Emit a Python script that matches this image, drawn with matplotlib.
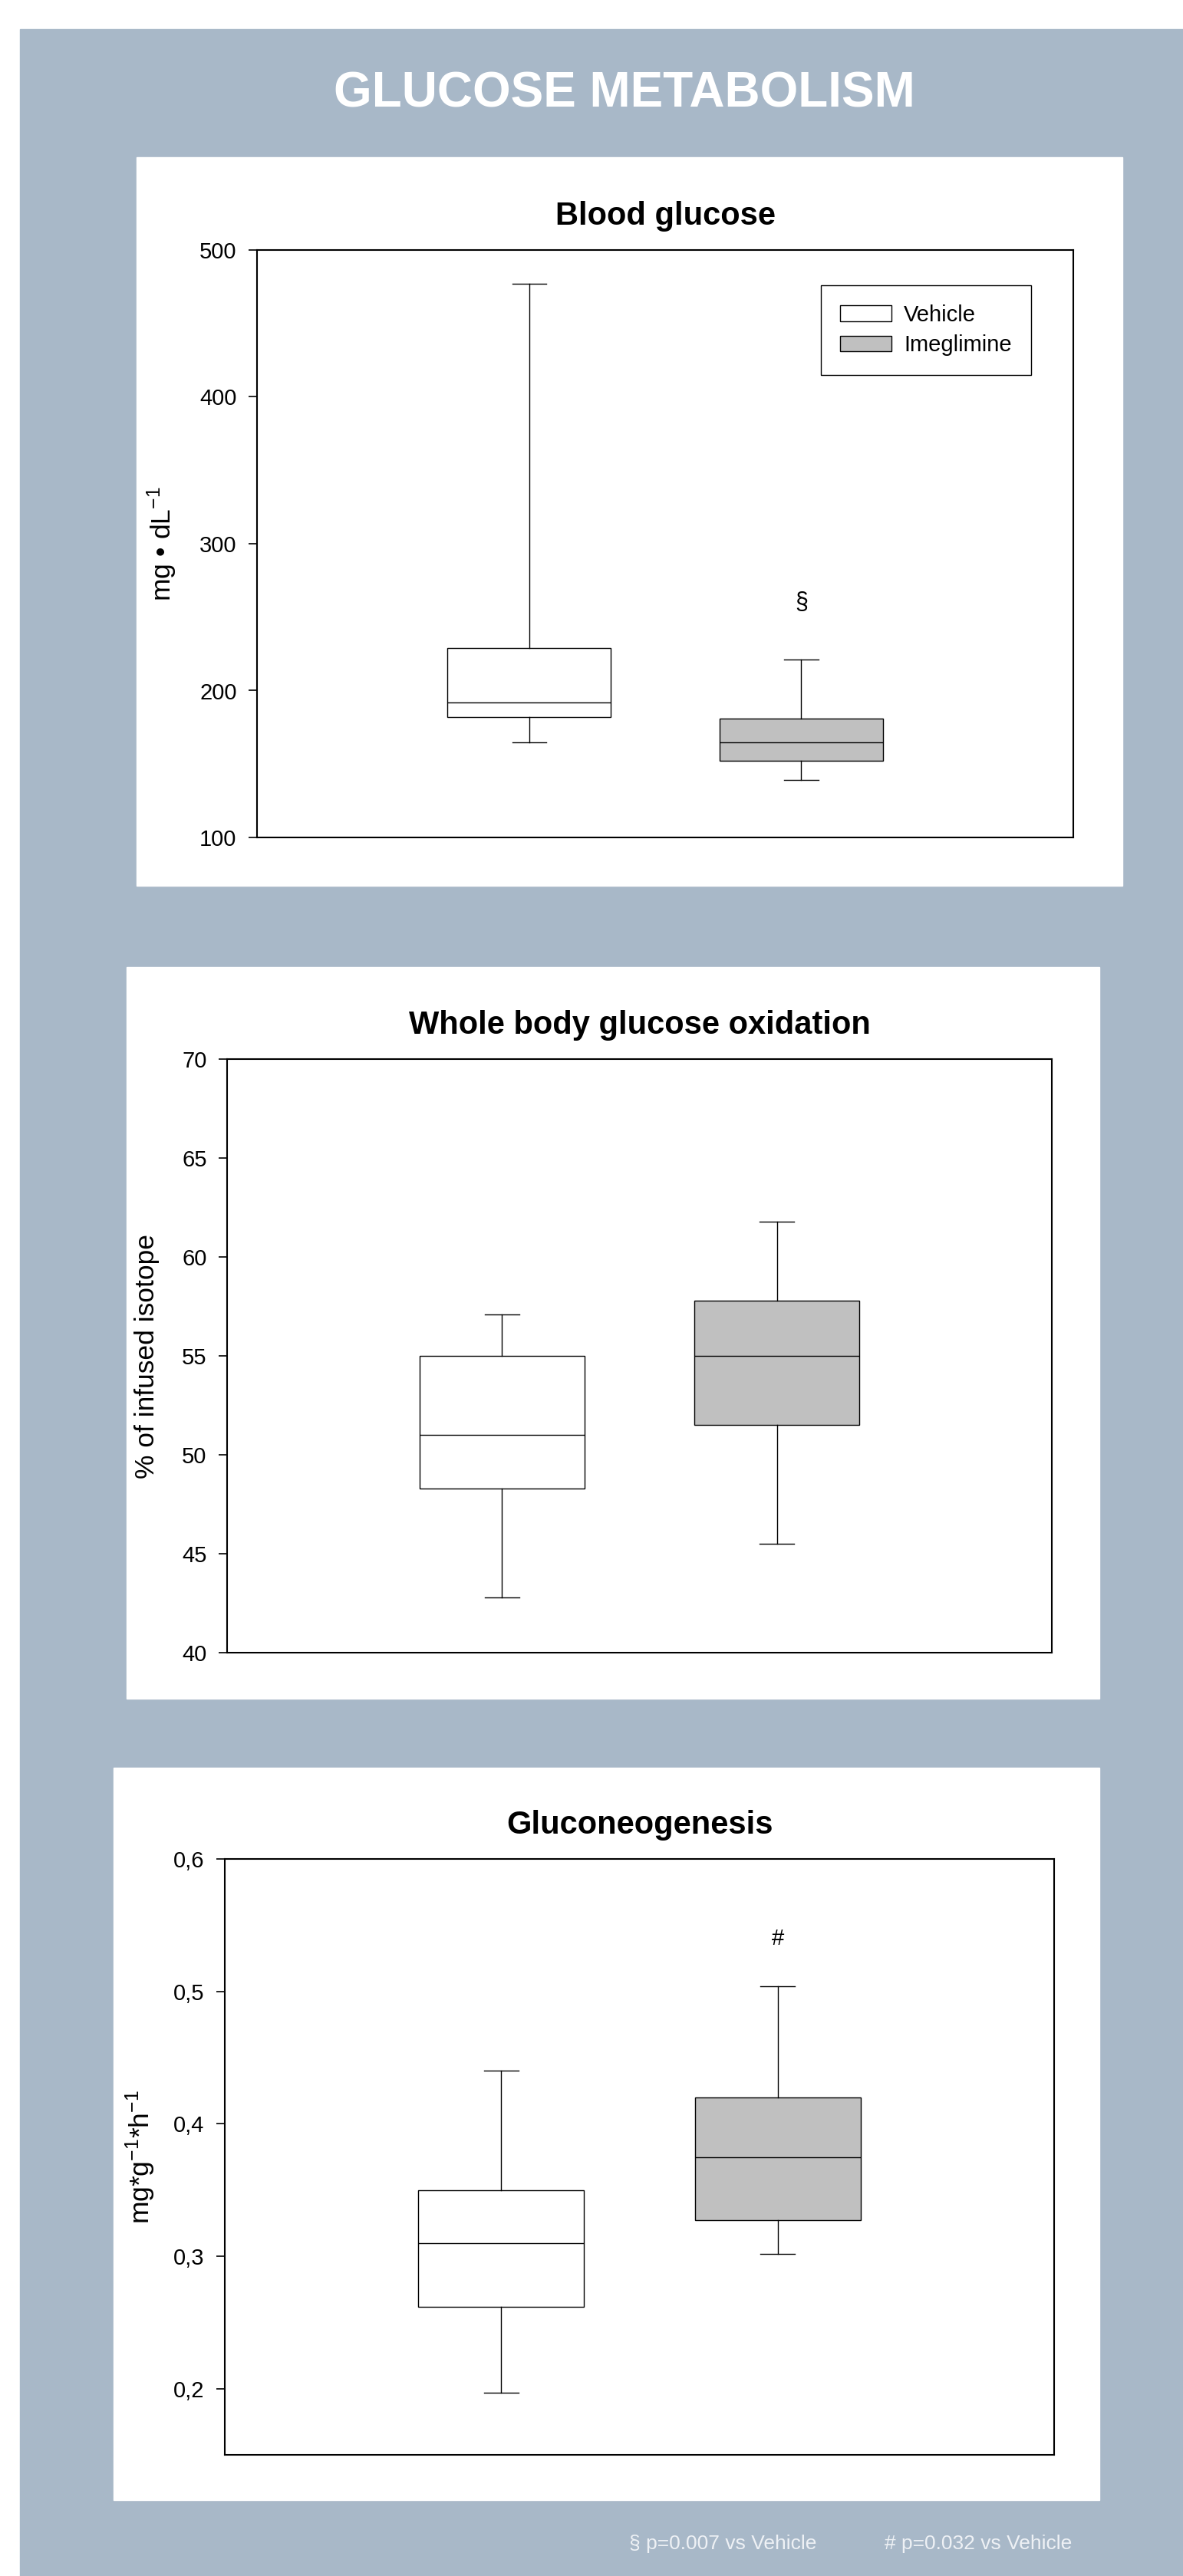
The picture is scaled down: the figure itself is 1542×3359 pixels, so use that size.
import matplotlib

matplotlib.use("Agg")
import matplotlib.pyplot as plt
from matplotlib.patches import Rectangle
from matplotlib.ticker import FuncFormatter

plt.rcParams["font.family"] = ["Liberation Sans", "DejaVu Sans"]
plt.rcParams["mathtext.fontset"] = "custom"
plt.rcParams["mathtext.rm"] = "Liberation Sans"
plt.rcParams["mathtext.it"] = "Liberation Sans:italic"
plt.rcParams["mathtext.bf"] = "Liberation Sans:bold"

# box stats: whislo, q1, median, q3, whishi
GROUPS = ["Vehicle", "Imeglimine"]
GLUCOSE_VEHICLE = [165, 182, 192, 229, 477]
GLUCOSE_IMEG = [139, 152, 165, 181, 221]
OXID_VEHICLE = [42.8, 48.3, 51.0, 55.0, 57.1]
OXID_IMEG = [45.5, 51.5, 55.0, 57.8, 61.8]
GNG_VEHICLE = [0.197, 0.262, 0.310, 0.350, 0.440]
GNG_IMEG = [0.302, 0.327, 0.375, 0.420, 0.504]

GLUCOSE_TICKS = [100, 200, 300, 400, 500]
OXID_TICKS = [40, 45, 50, 55, 60, 65, 70]
GNG_TICKS = [0.2, 0.3, 0.4, 0.5, 0.6]

BG = "#a8b8c8"
FILLS = ["white", "#c0c0c0"]

W, H = 1542, 3359


def rect(x0, y0, x1, y1):
    """pixel box (top-left origin) -> figure fraction [l, b, w, h]"""
    return [x0 / W, 1 - y1 / H, (x1 - x0) / W, (y1 - y0) / H]


def stats(vals, label):
    lo, q1, med, q3, hi = vals
    return dict(whislo=lo, q1=q1, med=med, q3=q3, whishi=hi, label=label, fliers=[])


def boxpanel(ax, vehicle, imeg, ylim, ticks, title, ylabel, label_x):
    line = dict(color="black", linewidth=1.0)
    bp = ax.bxp([stats(vehicle, GROUPS[0]), stats(imeg, GROUPS[1])],
                positions=[1, 2], widths=0.6, capwidths=0.125,
                patch_artist=True, showfliers=False,
                boxprops=dict(edgecolor="black", linewidth=1.0),
                medianprops=line, whiskerprops=line, capprops=line)
    for box, fc in zip(bp["boxes"], FILLS):
        box.set_facecolor(fc)
    ax.set_xlim(0, 3)
    ax.set_ylim(*ylim)
    ax.set_yticks(ticks)
    ax.tick_params(axis="x", bottom=False, labelbottom=False)
    ax.tick_params(axis="y", direction="out", length=8, width=1.2, pad=11, labelsize=21)
    for s in ax.spines.values():
        s.set_linewidth(1.5)
    ax.set_title(title, fontsize=30, fontweight="bold", pad=24)
    ax.set_ylabel(ylabel, fontsize=25.5)
    ax.yaxis.set_label_coords(label_x, 0.5)
    return bp


fig = plt.figure(figsize=(W / 100, H / 100), dpi=100, facecolor="white")

# blue backdrop and white panels
fig.patches.append(Rectangle((26 / W, 0), 1 - 26 / W, 1 - 38 / H,
                             transform=fig.transFigure, color=BG, zorder=-3))
for x0, y0, x1, y1 in [(178, 205, 1463, 1155), (165, 1261, 1433, 2215), (148, 2305, 1433, 3260)]:
    l, b, w, h = rect(x0, y0, x1, y1)
    fig.patches.append(Rectangle((l, b), w, h, transform=fig.transFigure,
                                 color="white", zorder=-2))

fig.text(814 / W, 1 - 139 / H, "GLUCOSE METABOLISM", ha="center", va="baseline",
         fontsize=46, fontweight="bold", color="white")

# --- blood glucose ----------------------------------------------------
ax1 = fig.add_axes(rect(335, 326, 1399, 1092))
bp = boxpanel(ax1, GLUCOSE_VEHICLE, GLUCOSE_IMEG, (100, 500), GLUCOSE_TICKS,
              "Blood glucose", r"mg • dL$^{\mathregular{-1}}$", -0.096)
ax1.legend(bp["boxes"], GROUPS, loc="upper left", bbox_to_anchor=(0.691, 0.940),
           borderaxespad=0, fontsize=21, fancybox=False, edgecolor="black",
           framealpha=1, handlelength=2.3, handleheight=0.7, labelspacing=0.4,
           handletextpad=0.55, borderpad=0.85).get_frame().set_linewidth(1.0)
ax1.text(2, 260, "§", ha="center", va="center", fontsize=22)

# --- whole body glucose oxidation -------------------------------------
ax2 = fig.add_axes(rect(296, 1381, 1371, 2155))
boxpanel(ax2, OXID_VEHICLE, OXID_IMEG, (40, 70), OXID_TICKS,
         "Whole body glucose oxidation", "% of infused isotope", -0.082)

# --- gluconeogenesis --------------------------------------------------
ax3 = fig.add_axes(rect(293, 2424, 1374, 3201))
boxpanel(ax3, GNG_VEHICLE, GNG_IMEG, (0.15, 0.6), GNG_TICKS, "Gluconeogenesis",
         r"mg*g$^{\mathregular{-1}}$*h$^{\mathregular{-1}}$", -0.081)
ax3.yaxis.set_major_formatter(FuncFormatter(lambda v, _: f"{v:.1f}".replace(".", ",")))
ax3.text(2, 0.54, "#", ha="center", va="center", fontsize=21)

# footnotes
fig.text(820 / W, 1 - 3324 / H, "§ p=0.007 vs Vehicle", ha="left", va="baseline",
         fontsize=19, color="#eef1f5")
fig.text(1153 / W, 1 - 3324 / H, "# p=0.032 vs Vehicle", ha="left", va="baseline",
         fontsize=19, color="#eef1f5")

fig.savefig("out.png", dpi=100)
